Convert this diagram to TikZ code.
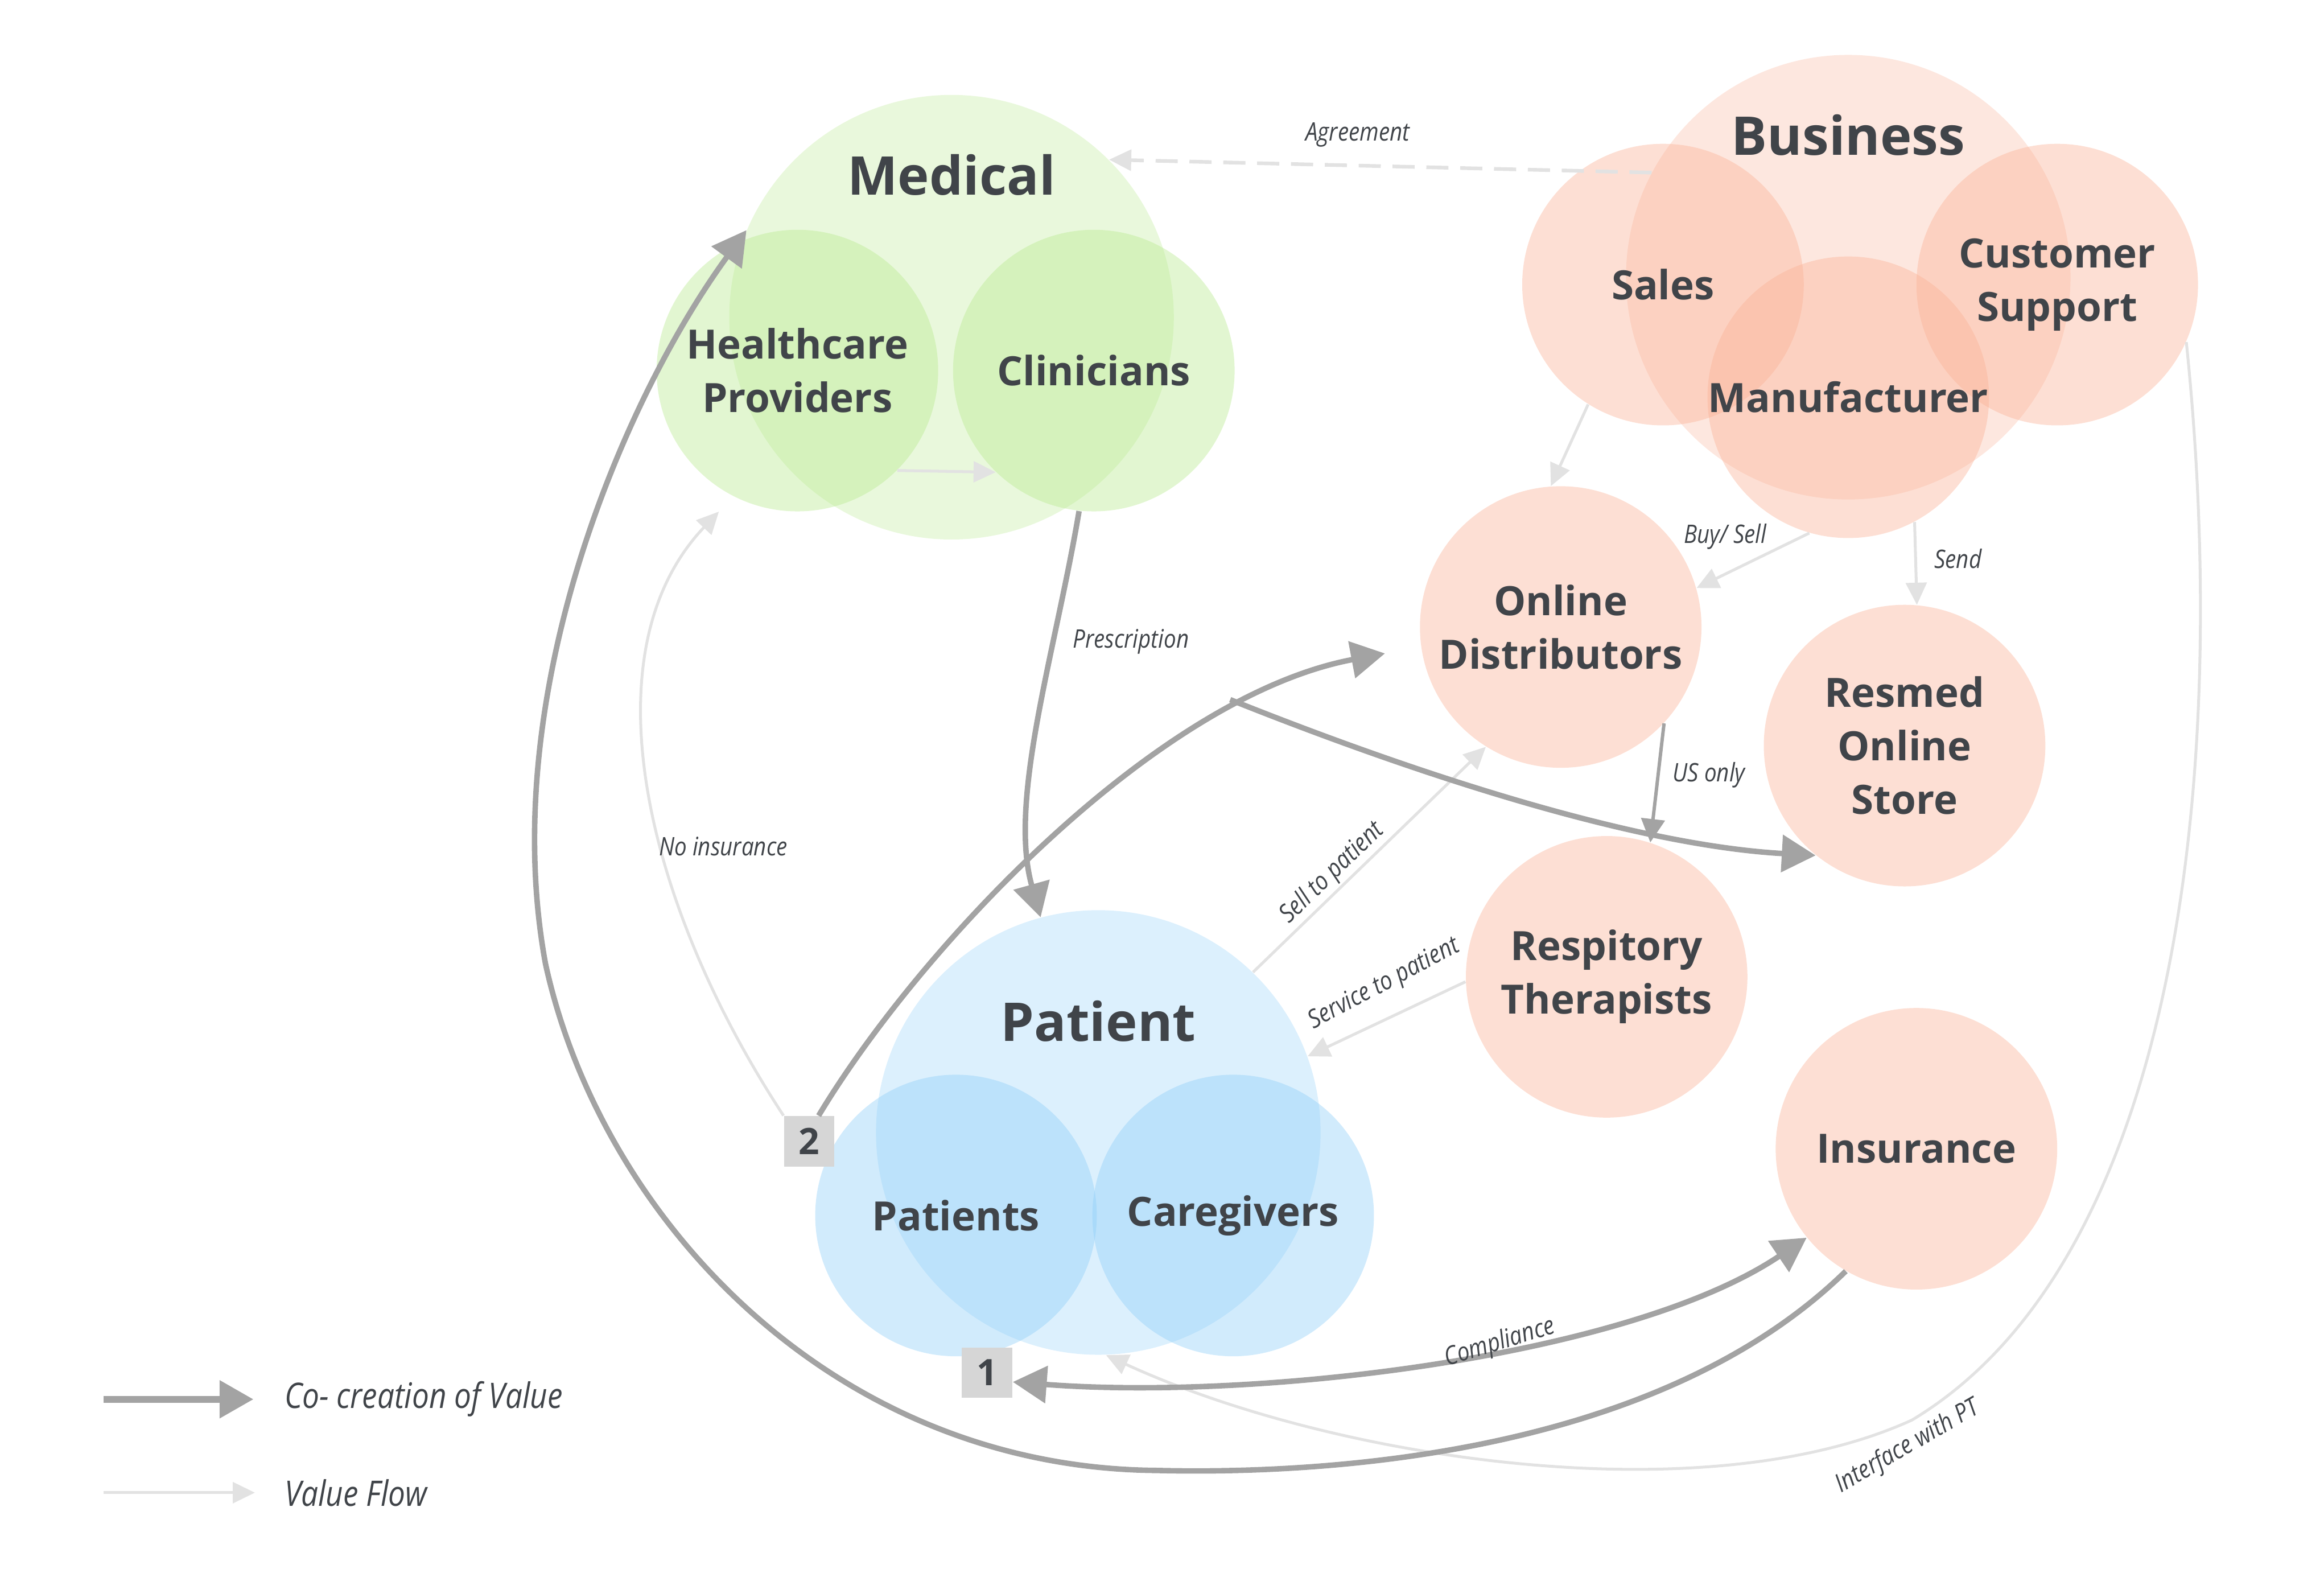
\documentclass[tikz,border=0pt]{standalone}
\usepackage{fontspec}
\setmainfont{Open Sans}
\newfontfamily\lblfont[FakeStretch=0.86]{Open Sans}
\usetikzlibrary{arrows.meta}
\definecolor{ink}{RGB}{64,68,73}
\definecolor{grn}{RGB}{182,233,140}
\definecolor{pch}{RGB}{250,176,148}
\definecolor{blu}{RGB}{140,205,248}
\definecolor{cocol}{RGB}{163,163,163}
\definecolor{flowcol}{RGB}{226,226,226}
\definecolor{boxcol}{RGB}{214,214,214}
\begin{document}
\begin{tikzpicture}[x=0.02cm, y=-0.02cm,
  big/.style={circle, minimum size=6cm, inner sep=0pt, fill opacity=0.3, text opacity=1},
  small/.style={circle, minimum size=3.8cm, inner sep=0pt, fill opacity=0.4, text opacity=1,
    text=ink, align=center, font=\bfseries\fontsize{15.5}{20.5}\selectfont},
  grplbl/.style={text=ink, font=\bfseries\fontsize{20.5}{24}\selectfont},
  numbox/.style={fill=boxcol, minimum size=0.68cm, inner sep=0pt, text=ink,
    font=\bfseries\fontsize{14}{16}\selectfont},
  cocreate/.style={draw=cocol, line width=2.1pt, -{Triangle[length=13pt,width=14pt]}},
  flow/.style={draw=flowcol, line width=1.1pt, -{Triangle[length=8.5pt,width=8pt]}},
  lbl/.style={text=ink, font=\lblfont\itshape\fontsize{9.8}{11}\selectfont, inner sep=1pt},
  leglbl/.style={lbl, anchor=west, font=\lblfont\itshape\fontsize{13.5}{15}\selectfont}]
\useasboundingbox (0,0) rectangle (1568,1061);
% circles of the three groups
\node[big, fill=grn] (med) at (642,214) {};
\node[big, fill=pch] (bus) at (1247,187) {};
\node[big, fill=blu] (pat) at (741,764) {};
\node[small, fill=grn] (hp) at (538,250) {Healthcare\\Providers};
\node[small, fill=grn] (clin) at (738,250) {Clinicians};
\node[small, fill=pch] (sales) at (1122,192) {Sales};
\node[small, fill=pch] (cs) at (1388,192) {Customer\\Support};
\node[small, fill=pch] (manu) at (1247,268) {Manufacturer};
\node[small, fill=pch] (od) at (1053,423) {Online\\Distributors};
\node[small, fill=pch] (res) at (1285,503) {Resmed\\Online\\Store};
\node[small, fill=pch] (rt) at (1084,659) {Respitory\\Therapists};
\node[small, fill=pch] (ins) at (1293,775) {Insurance};
\node[small, fill=blu] (pts) at (645,820) {Patients};
\node[small, fill=blu] (care) at (832,820) {Caregivers};
\node[grplbl] (medT) at (642,118) {Medical};
\node[grplbl] (busT) at (1247,91) {Business};
\node[grplbl] (patT) at (741,689) {Patient};
\node[numbox] (b2) at (546,770) {2};
\node[numbox] (b1) at (666,926) {1};
% value flow
\draw[flow, dash pattern=on 8.5pt off 4.5pt, line width=1.4pt] (bus.152) -- (med.45);
\draw[flow] (hp.-45) -- (clin.226);
\draw[flow] (sales.238) -- (od.94);
\draw[flow] (manu.254) -- (od.16);
\draw[flow] (manu.298) -- (res.85);
\draw[flow] (pat.46) -- (od.238);
\draw[flow] (rt.182) -- (pat.20);
\draw[flow, shorten >=8pt] (b2.north west) .. controls (435,610) and (395,440) .. (hp.243);
\draw[flow] (cs.-24) .. controls (1505,520) and (1470,850) .. (1290,958)
  .. controls (1150,1022) and (900,985) .. (pat.-88);
\draw[draw=cocol, line width=1.3pt, -{Triangle[length=9pt,width=9pt]}] (od.-43) -- (rt.72);
% co-creation of value
\coordinate (br) at (830,472);
\draw[cocreate] (clin.-96) .. controls (712,440) and (680,540) .. (pat.105);
\draw[cocreate, shorten >=14pt] (b2.70) .. controls (620,640) and (780,470) .. (od.188);
\draw[cocreate] (br) .. controls (950,520) and (1100,570) .. (res.231);
\draw[cocreate, {Triangle[length=13pt,width=14pt]}-{Triangle[length=13pt,width=14pt]}]
  (b1.-20) .. controls (850,945) and (1100,915) .. (ins.219);
\draw[cocreate] (ins.240) .. controls (1120,980) and (900,995) .. (780,992)
  .. controls (560,990) and (405,820) .. (368,650)
  .. controls (335,470) and (420,270) .. (med.157);
% labels of the connectors
\node[lbl] (agr) at (916,91) {Agreement};
\node[lbl] (pre) at (763,433) {Prescription};
\node[lbl] (noi) at (488,571) {No insurance};
\node[lbl, rotate=44] (stp) at (899,589) {Sell to patient};
\node[lbl, rotate=28] (svp) at (934,664) {Service to patient};
\node[lbl] (bs) at (1164,362) {Buy/ Sell};
\node[lbl] (snd) at (1321,377) {Send};
\node[lbl] (uso) at (1153,523) {US only};
\node[lbl, rotate=17] (cmp) at (1012,906) {Compliance};
\node[lbl, rotate=30] (ipt) at (1287,976) {Interface with PT};
% legend
\coordinate (l1a) at (70,944);
\coordinate (l1b) at (171,944);
\coordinate (l2a) at (70,1007);
\coordinate (l2b) at (172,1007);
\draw[cocreate, line width=2.6pt] (l1a) -- (l1b);
\draw[flow] (l2a) -- (l2b);
\node[leglbl] (leg1) at (190,944) {Co- creation of Value};
\node[leglbl] (leg2) at (190,1007) {Value Flow};
\end{tikzpicture}
\end{document}
